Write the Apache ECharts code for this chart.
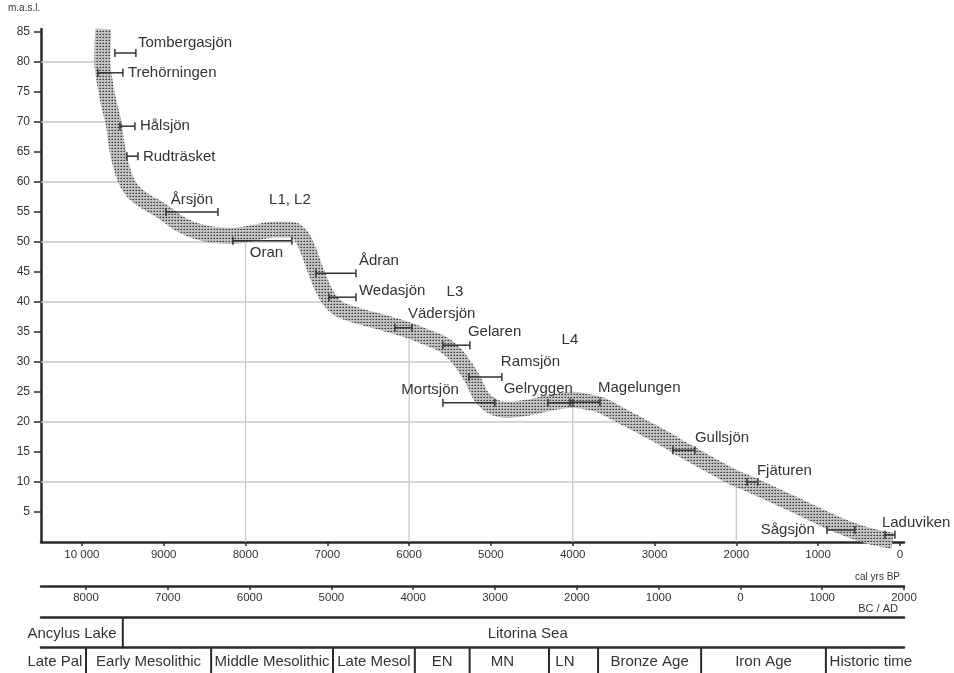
<!DOCTYPE html>
<html><head><meta charset="utf-8">
<script src="https://cdn.jsdelivr.net/npm/echarts@6/dist/echarts.min.js"></script>
<style>html,body{margin:0;padding:0;background:#fff}#c{width:954px;height:673px}</style>
</head><body><div id="c"></div>
<script>
// ---------- DATA ----------
const shoreAge   = [9740, 9750, 9725, 9670, 9615, 9560, 9470, 9380, 9250, 9100, 8985, 8800, 8600, 8400, 8150, 7900, 7650, 7450, 7320, 7230, 7150, 7060, 6970, 6850, 6600, 6300, 6050, 5800, 5590, 5450, 5340, 5230, 5120, 4980, 4800, 4550, 4280, 4000, 3800, 3650, 3480, 2850, 2640, 2040, 1830, 1220, 820, 400, 90];
const shoreLevel = [85.5, 80, 77, 73, 70, 65, 60.5, 58.5, 57, 55.8, 54.8, 53, 51.8, 51.2, 51, 51.5, 52.1, 52.1, 51, 48.5, 45.5, 42.5, 40.3, 38.8, 37.6, 36.5, 35.5, 34.2, 33, 31.5, 29.6, 27.3, 24.3, 22.6, 22, 22.4, 23.2, 23.7, 23.3, 22.8, 21.6, 17, 15.3, 10.8, 9.6, 5.8, 3.2, 1.1, 0.2];

const lakeNames = ['Tombergasjön','Trehörningen','Hålsjön','Rudträsket','Årsjön','Oran','Ådran','Wedasjön','Vädersjön','Gelaren','Ramsjön','Mortsjön','Gelryggen','Magelungen','Gullsjön','Fjäturen','Sågsjön','Laduviken'];
const lakeLevel = [81.5, 78.2, 69.3, 64.3, 55.0, 50.2, 44.8, 40.8, 35.7, 32.8, 27.5, 23.2, 23.2, 23.3, 15.3, 10.0, 2.0, 1.2];
const lakeFrom  = [9597, 9804, 9535, 9450, 8973, 8154, 7139, 6980, 6174, 5587, 5269, 5587, 4303, 4034, 2775, 1870, 892, 183];
const lakeTo    = [9340, 9499, 9352, 9315, 8337, 7433, 6650, 6650, 5966, 5257, 4866, 4951, 3998, 3667, 2506, 1736, 550, 61];

const noteNames = ['L1, L2', 'L3', 'L4'];
const noteAge   = [7457, 5440, 4034];
const noteLevel = [57, 41.7, 33.7];

const calTicks = [10000, 9000, 8000, 7000, 6000, 5000, 4000, 3000, 2000, 1000, 0];
const calTickLabels = ['10 000','9000','8000','7000','6000','5000','4000','3000','2000','1000','0'];
const bcadTicks = [9950, 8950, 7950, 6950, 5950, 4950, 3950, 2950, 1950, 950, -50];
const bcadTickLabels = ['8000','7000','6000','5000','4000','3000','2000','1000','0','1000','2000'];
const levelTicks = [5,10,15,20,25,30,35,40,45,50,55,60,65,70,75,80,85];

const gridLevels = [80, 70, 60, 50, 40, 30, 20, 10];
const gridAges = [8000, 6000, 4000, 2000];

const basinDividers = [9500];
const basinNames = ['Ancylus Lake', 'Litorina Sea'];
const basinLabelAge = [10120, 4550];
const periodDividers = [9950, 8420, 6930, 5930, 5260, 4290, 3690, 2430, 905];
const periodNames = ['Late Pal','Early Mesolithic','Middle Mesolithic','Late Mesol','EN','MN','LN','Bronze Age','Iron Age','Historic time'];
const periodLabelAge = [10330, 9185, 7675, 6430, 5595, 4860, 4095, 3060, 1667, 355];

// ---------- STYLE / PLACEMENT (pixels) ----------
const labelPlace = {
  'Tombergasjön': ['R', 2, -10, 'left'],
  'Trehörningen': ['R', 5, 0, 'left'],
  'Hålsjön': ['R', 5, 0, 'left'],
  'Rudträsket': ['R', 5, 1, 'left'],
  'Årsjön': ['C', 0, -12, 'center'],
  'Oran': ['C', 4, 12, 'center'],
  'Ådran': ['R', 3, -12, 'left'],
  'Wedasjön': ['R', 3, -6, 'left'],
  'Vädersjön': ['R', -4, -14, 'left'],
  'Gelaren': ['R', -2, -13, 'left'],
  'Ramsjön': ['R', -1, -15, 'left'],
  'Mortsjön': ['L', 16, -13, 'right'],
  'Gelryggen': ['R', 0, -14, 'right'],
  'Magelungen': ['R', -2, -14, 'left'],
  'Gullsjön': ['R', 0, -12, 'left'],
  'Fjäturen': ['R', -1, -11, 'left'],
  'Sågsjön': ['L', -12, 0, 'right'],
  'Laduviken': ['L', -3, -12, 'left']
};
const FONT = "'Liberation Sans', Arial, Helvetica, sans-serif";
const TXT = '#333';
const LBL = 15;

// ---------- helpers ----------
function crossAge(v) {
  for (let i = 0; i < shoreAge.length - 1; i++) {
    const a = shoreLevel[i], b = shoreLevel[i + 1];
    if ((a - v) * (b - v) <= 0 && a !== b) {
      return shoreAge[i] + (v - a) / (b - a) * (shoreAge[i + 1] - shoreAge[i]);
    }
  }
  return 0;
}
function levelAt(t) {
  for (let i = 0; i < shoreAge.length - 1; i++) {
    const a = shoreAge[i], b = shoreAge[i + 1];
    if ((a - t) * (b - t) <= 0 && a !== b) {
      return shoreLevel[i] + (t - a) / (b - a) * (shoreLevel[i + 1] - shoreLevel[i]);
    }
  }
  return 0;
}
function makePattern() {
  const c = document.createElement('canvas'); c.width = 3; c.height = 3;
  const g = c.getContext('2d');
  g.fillStyle = '#c4c4c4'; g.fillRect(0, 0, 3, 3);
  g.fillStyle = '#383838'; g.fillRect(1, 1, 1, 1);
  g.fillStyle = '#737373'; g.fillRect(0, 1, 1, 1);
  g.fillStyle = '#a4a4a4'; g.fillRect(1, 0, 1, 1);
  return c;
}

const AGE_MIN = -50, AGE_MAX = 10500;
const gridSegs = [];
gridLevels.forEach(v => gridSegs.push([AGE_MAX, v, crossAge(v), v]));
gridAges.forEach(t => gridSegs.push([t, 0, t, levelAt(t)]));

const chart = echarts.init(document.getElementById('c'), null, {renderer: 'canvas'});

function xAx(grid, extra) {
  return Object.assign({
    type: 'value', gridIndex: grid, min: AGE_MIN, max: AGE_MAX, inverse: true,
    splitLine: {show: false}
  }, extra);
}
const AXC = '#2a2a2a';

const option = {
  animation: false,
  backgroundColor: '#fff',
  textStyle: {fontFamily: FONT},
  grid: [
    {left: 41, right: 50, top: 29, bottom: 131},
    {left: 41, right: 50, top: 617, height: 30},
    {left: 41, right: 50, top: 647, height: 30}
  ],
  xAxis: [
    xAx(0, {position: 'bottom',
      axisLine: {show: true, onZero: false, lineStyle: {color: AXC, width: 2.5}},
      axisTick: {show: true, customValues: calTicks, length: 4, lineStyle: {color: AXC, width: 1.5}},
      axisLabel: {customValues: calTicks, formatter: v => calTickLabels[calTicks.indexOf(v)], margin: 7, fontSize: 11.5, color: TXT, fontFamily: FONT}
    }),
    xAx(0, {position: 'bottom', offset: 44,
      axisLine: {show: true, onZero: false, lineStyle: {color: AXC, width: 2.5}},
      axisTick: {show: true, customValues: bcadTicks, length: 4, lineStyle: {color: AXC, width: 1.5}},
      axisLabel: {customValues: bcadTicks, formatter: v => bcadTickLabels[bcadTicks.indexOf(v)], margin: 6, fontSize: 11.5, color: TXT, fontFamily: FONT}
    }),
    xAx(1, {position: 'top', axisLine: {show: true, onZero: false, lineStyle: {color: AXC, width: 2.5}}, axisTick: {show: false}, axisLabel: {show: false}}),
    xAx(2, {position: 'top', axisLine: {show: true, onZero: false, lineStyle: {color: AXC, width: 2.5}}, axisTick: {show: false}, axisLabel: {show: false}})
  ],
  yAxis: [
    {type: 'value', gridIndex: 0, min: 0, max: 85.5, position: 'left',
      axisLine: {show: true, onZero: false, lineStyle: {color: AXC, width: 2.5}},
      axisTick: {show: true, customValues: levelTicks, length: 7, lineStyle: {color: AXC, width: 1.5}},
      axisLabel: {customValues: levelTicks, margin: 11, fontSize: 12, color: TXT, fontFamily: FONT},
      splitLine: {show: false}},
    {type: 'value', gridIndex: 1, min: 0, max: 1, show: false},
    {type: 'value', gridIndex: 2, min: 0, max: 1, show: false}
  ],
  graphic: [
    {type: 'text', left: 8, top: 3, style: {text: 'm.a.s.l.', fontSize: 10, fontFamily: FONT, fill: TXT}},
    {type: 'text', right: 54, top: 572, style: {text: 'cal yrs BP', fontSize: 10, fontFamily: FONT, fill: TXT}},
    {type: 'text', right: 56, top: 603, style: {text: 'BC / AD', fontSize: 11, fontFamily: FONT, fill: TXT}}
  ],
  series: [
    { // grid lines ending at the shoreline
      type: 'custom', xAxisIndex: 0, yAxisIndex: 0, z: 1, silent: true,
      data: gridSegs,
      renderItem: (p, api) => {
        const a = api.coord([api.value(0), api.value(1)]);
        const b = api.coord([api.value(2), api.value(3)]);
        return {type: 'line', shape: {x1: a[0], y1: a[1], x2: b[0], y2: b[1]}, style: {stroke: '#c8c8c8', lineWidth: 1.3}};
      }
    },
    { // shoreline band
      type: 'line', xAxisIndex: 0, yAxisIndex: 0, z: 2, silent: true,
      data: shoreAge.map((a, i) => [a, shoreLevel[i]]),
      showSymbol: false, symbol: 'none', smooth: 0.35, clip: false,
      lineStyle: {width: 16, color: {image: makePattern(), repeat: 'repeat'}, cap: 'butt', join: 'round'}
    },
    { // lake dating bars
      type: 'custom', xAxisIndex: 0, yAxisIndex: 0, z: 3, clip: false, silent: true,
      data: lakeNames.map((n, i) => [lakeLevel[i], lakeFrom[i], lakeTo[i], i]),
      renderItem: (p, api) => {
        const i = api.value(3), name = lakeNames[i];
        const a = api.coord([api.value(1), api.value(0)]);
        const b = api.coord([api.value(2), api.value(0)]);
        const pl = labelPlace[name];
        let ax = pl[0] === 'R' ? b[0] : pl[0] === 'L' ? a[0] : (a[0] + b[0]) / 2;
        const st = {stroke: '#333', lineWidth: 1.5};
        return {type: 'group', children: [
          {type: 'line', shape: {x1: a[0], y1: a[1], x2: b[0], y2: b[1]}, style: st},
          {type: 'line', shape: {x1: a[0], y1: a[1] - 4, x2: a[0], y2: a[1] + 4}, style: st},
          {type: 'line', shape: {x1: b[0], y1: b[1] - 4, x2: b[0], y2: b[1] + 4}, style: st},
          {type: 'text', x: ax + pl[1], y: a[1] + pl[2],
            style: {text: name, fill: TXT, fontSize: LBL, fontFamily: FONT, align: pl[3], verticalAlign: 'middle'}}
        ]};
      }
    },
    { // L notes
      type: 'custom', xAxisIndex: 0, yAxisIndex: 0, z: 3, silent: true,
      data: noteNames.map((n, i) => [noteAge[i], noteLevel[i], i]),
      renderItem: (p, api) => {
        const c = api.coord([api.value(0), api.value(1)]);
        return {type: 'text', x: c[0], y: c[1], style: {text: noteNames[api.value(2)], fill: TXT, fontSize: LBL, fontFamily: FONT, align: 'center', verticalAlign: 'middle'}};
      }
    },
    { // basin dividers
      type: 'custom', xAxisIndex: 2, yAxisIndex: 1, silent: true, clip: false,
      data: basinDividers.map(a => [a]),
      renderItem: (p, api) => {
        const a = api.coord([api.value(0), 1]), b = api.coord([api.value(0), 0]);
        return {type: 'line', shape: {x1: a[0], y1: a[1], x2: b[0], y2: b[1]}, style: {stroke: AXC, lineWidth: 2}};
      }
    },
    { // basin labels
      type: 'custom', xAxisIndex: 2, yAxisIndex: 1, silent: true, clip: false,
      data: basinNames.map((n, i) => [basinLabelAge[i], i]),
      renderItem: (p, api) => {
        const c = api.coord([api.value(0), 0.5]);
        return {type: 'text', x: c[0], y: c[1] + 2, style: {text: basinNames[api.value(1)], fill: TXT, fontSize: LBL, fontFamily: FONT, align: 'center', verticalAlign: 'middle'}};
      }
    },
    { // period dividers
      type: 'custom', xAxisIndex: 3, yAxisIndex: 2, silent: true, clip: false,
      data: periodDividers.map(a => [a]),
      renderItem: (p, api) => {
        const a = api.coord([api.value(0), 1]), b = api.coord([api.value(0), 0]);
        return {type: 'line', shape: {x1: a[0], y1: a[1], x2: b[0], y2: b[1]}, style: {stroke: AXC, lineWidth: 2}};
      }
    },
    { // period labels
      type: 'custom', xAxisIndex: 3, yAxisIndex: 2, silent: true, clip: false,
      data: periodNames.map((n, i) => [periodLabelAge[i], i]),
      renderItem: (p, api) => {
        const c = api.coord([api.value(0), 0.5]);
        return {type: 'text', x: c[0], y: c[1] + 2, style: {text: periodNames[api.value(1)], fill: TXT, fontSize: LBL, fontFamily: FONT, align: 'center', verticalAlign: 'middle'}};
      }
    }
  ]
};
chart.setOption(option);
</script>
</body></html>
